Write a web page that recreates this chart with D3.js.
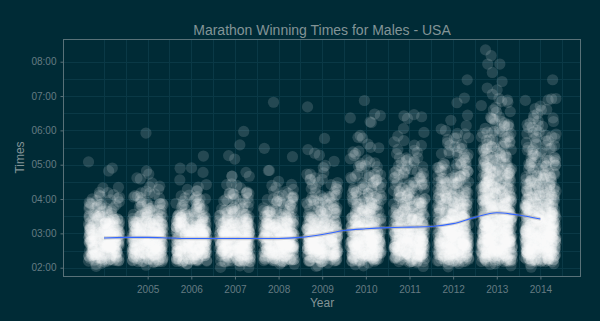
<!DOCTYPE html>
<html>
<head>
<meta charset="utf-8">
<script src="https://cdn.jsdelivr.net/npm/d3@7"></script>
<style>
  body { margin: 0; background: #002b36; }
  text { font-family: "Liberation Sans", Arial, sans-serif; }
</style>
</head>
<body>
<svg id="chart" width="600" height="321"></svg>
<script>
// race years and the labelled ones on the x axis
const years = [2004, 2005, 2006, 2007, 2008, 2009, 2010, 2011, 2012, 2013, 2014];
const yearTicks = [2005, 2006, 2007, 2008, 2009, 2010, 2011, 2012, 2013, 2014];
const timeTicks = ["02:00", "03:00", "04:00", "05:00", "06:00", "07:00", "08:00"];

// finishers per 10 minute bin, first bin starts at 02:00
const binStart = 120;
const binSize = 10;
const c2004 = [3, 26, 44, 50, 50, 48, 44, 36, 22, 14, 10, 8, 6, 3, 1, 0, 1, 1, 1];
const c2005 = [3, 26, 44, 50, 50, 48, 44, 36, 22, 14, 10, 8, 6, 4, 3, 2, 2, 0, 0, 0, 0, 0, 0, 1];
const c2006 = [3, 26, 44, 50, 50, 48, 44, 36, 22, 14, 11, 8, 6, 3, 2, 1, 1, 2, 0, 1];
const c2007 = [3, 26, 44, 50, 50, 48, 44, 34, 21, 14, 11, 8, 7, 5, 3, 2, 2, 0, 1, 1, 0, 1, 0, 1];
const c2008 = [3, 26, 44, 50, 50, 48, 44, 36, 22, 15, 11, 8, 7, 4, 3, 1, 2, 0, 0, 1, 1, 0, 0, 0, 0, 0, 0, 0, 1];
const c2009 = [3, 26, 44, 50, 50, 44, 38, 28, 20, 15, 12, 10, 8, 6, 5, 4, 3, 2, 1, 1, 2, 0, 1, 0, 0, 0, 0, 0, 1];
const c2010 = [3, 26, 44, 50, 50, 44, 38, 30, 24, 19, 16, 13, 11, 10, 9, 7, 6, 5, 4, 3, 3, 2, 2, 1, 0, 2, 3, 0, 0, 1];
const c2011 = [3, 26, 44, 50, 50, 44, 38, 30, 24, 19, 16, 14, 12, 11, 10, 8, 7, 6, 5, 4, 3, 2, 3, 1, 1, 0, 4];
const c2012 = [3, 28, 46, 52, 52, 50, 44, 40, 34, 28, 23, 20, 17, 15, 13, 12, 10, 9, 7, 6, 5, 4, 4, 3, 2, 1, 1, 0, 1, 1, 0, 0, 1];
const c2013 = [3, 30, 48, 54, 54, 52, 50, 46, 42, 36, 32, 29, 26, 24, 22, 20, 18, 15, 12, 11, 10, 9, 8, 7, 6, 5, 4, 3, 3, 3, 1, 2, 1, 0, 1, 2, 0, 1, 1];
const c2014 = [3, 30, 48, 54, 54, 52, 50, 46, 42, 36, 28, 23, 20, 17, 15, 13, 11, 10, 9, 8, 7, 6, 6, 5, 5, 4, 4, 3, 1, 4, 0, 0, 1];
const counts = [c2004, c2005, c2006, c2007, c2008, c2009, c2010, c2011, c2012, c2013, c2014];

// loess trend of the winning times
const trendYears = [2004, 2004.5, 2005, 2005.5, 2006, 2006.5, 2007, 2007.5, 2008, 2008.5, 2009,
                    2009.5, 2010, 2010.5, 2011, 2011.5, 2012, 2012.5, 2013, 2013.5, 2014];
const trendTimes = ["02:52", "02:53", "02:53", "02:52", "02:51", "02:51", "02:51", "02:51", "02:51", "02:53", "02:58",
                    "03:05", "03:08", "03:10", "03:11", "03:12", "03:17", "03:28", "03:36", "03:32", "03:25"];

const toMin = s => { const p = s.split(":"); return +p[0] * 60 + +p[1]; };
const fmt = m => d3.format("02d")(Math.floor(m / 60)) + ":" + d3.format("02d")(m % 60);

const svg = d3.select("#chart");
const W = 600, H = 321;
const pLeft = 63, pRight = 581, pTop = 39, pBottom = 276;

const x = d3.scaleLinear().domain([2003.06, 2014.93]).range([pLeft, pRight]);
const y = d3.scaleLinear().domain([105.5, 519.7]).range([pBottom, pTop]);

svg.append("rect").attr("width", W).attr("height", H).attr("fill", "#002b36");

// grid, half-year and half-hour steps
const grid = svg.append("g").attr("stroke", "#0a3946").attr("stroke-width", 1);
d3.range(2004, 2014.51, 0.5).forEach(v => {
  const px = Math.round(x(v)) + 0.5;
  grid.append("line").attr("x1", px).attr("x2", px).attr("y1", pTop).attr("y2", pBottom);
});
d3.range(120, 481, 30).forEach(v => {
  const py = Math.round(y(v)) + 0.5;
  grid.append("line").attr("x1", pLeft).attr("x2", pRight).attr("y1", py).attr("y2", py);
});

// jittered finishers: each one sits somewhere inside its 10 minute bin,
// spread sideways around its year like geom_jitter
const jitter = d3.randomUniform.source(d3.randomLcg(0.4217));
const jx = jitter(-0.36, 0.36);
const jy = jitter(0, 1);
const pts = [];
counts.forEach((arr, yi) => {
  arr.forEach((n, b) => {
    for (let k = 0; k < n; k++) {
      pts.push({ year: years[yi] + jx(), time: binStart + (b + jy()) * binSize });
    }
  });
});

svg.append("g")
  .selectAll("circle")
  .data(pts)
  .join("circle")
  .attr("cx", d => x(d.year))
  .attr("cy", d => y(d.time))
  .attr("r", 5.6)
  .attr("fill", "#ffffff")
  .attr("fill-opacity", 0.14);

// trend with its confidence band
const trend = trendYears.map((v, i) => ({ year: v, time: toMin(trendTimes[i]) }));
svg.append("path")
  .datum(trend)
  .attr("fill", "#999999")
  .attr("fill-opacity", 0.4)
  .attr("d", d3.area().curve(d3.curveMonotoneX)
    .x(d => x(d.year)).y0(d => y(d.time - 3)).y1(d => y(d.time + 3)));
svg.append("path")
  .datum(trend)
  .attr("fill", "none")
  .attr("stroke", "#3366ff")
  .attr("stroke-width", 1.1)
  .attr("d", d3.line().curve(d3.curveMonotoneX).x(d => x(d.year)).y(d => y(d.time)));

// panel border
svg.append("rect")
  .attr("x", pLeft + 0.5).attr("y", pTop + 0.5)
  .attr("width", pRight - pLeft - 1).attr("height", pBottom - pTop)
  .attr("fill", "none").attr("stroke", "#587178").attr("stroke-width", 1);

// axes
const xAxis = svg.append("g")
  .attr("transform", `translate(0,${pBottom + 0.5})`)
  .call(d3.axisBottom(x).tickValues(yearTicks).tickFormat(d3.format("d")).tickSize(3).tickPadding(6));
const yAxis = svg.append("g")
  .attr("transform", `translate(${pLeft + 0.5},0)`)
  .call(d3.axisLeft(y).tickValues(timeTicks.map(toMin)).tickFormat(fmt).tickSize(3).tickPadding(4));
[xAxis, yAxis].forEach(g => {
  g.select(".domain").remove();
  g.selectAll("line").attr("stroke", "#587178");
  g.selectAll("text").attr("fill", "#657b83").attr("font-size", 10)
    .attr("font-family", "Liberation Sans, Arial, sans-serif");
});

svg.append("text")
  .attr("x", (pLeft + pRight) / 2).attr("y", 35)
  .attr("text-anchor", "middle").attr("font-size", 14).attr("fill", "#839496")
  .text("Marathon Winning Times for Males - USA");
svg.append("text")
  .attr("x", (pLeft + pRight) / 2).attr("y", 307)
  .attr("text-anchor", "middle").attr("font-size", 12).attr("fill", "#839496")
  .text("Year");
svg.append("text")
  .attr("transform", `translate(24,${(pTop + pBottom) / 2}) rotate(-90)`)
  .attr("text-anchor", "middle").attr("font-size", 12).attr("fill", "#839496")
  .text("Times");
</script>
</body>
</html>
